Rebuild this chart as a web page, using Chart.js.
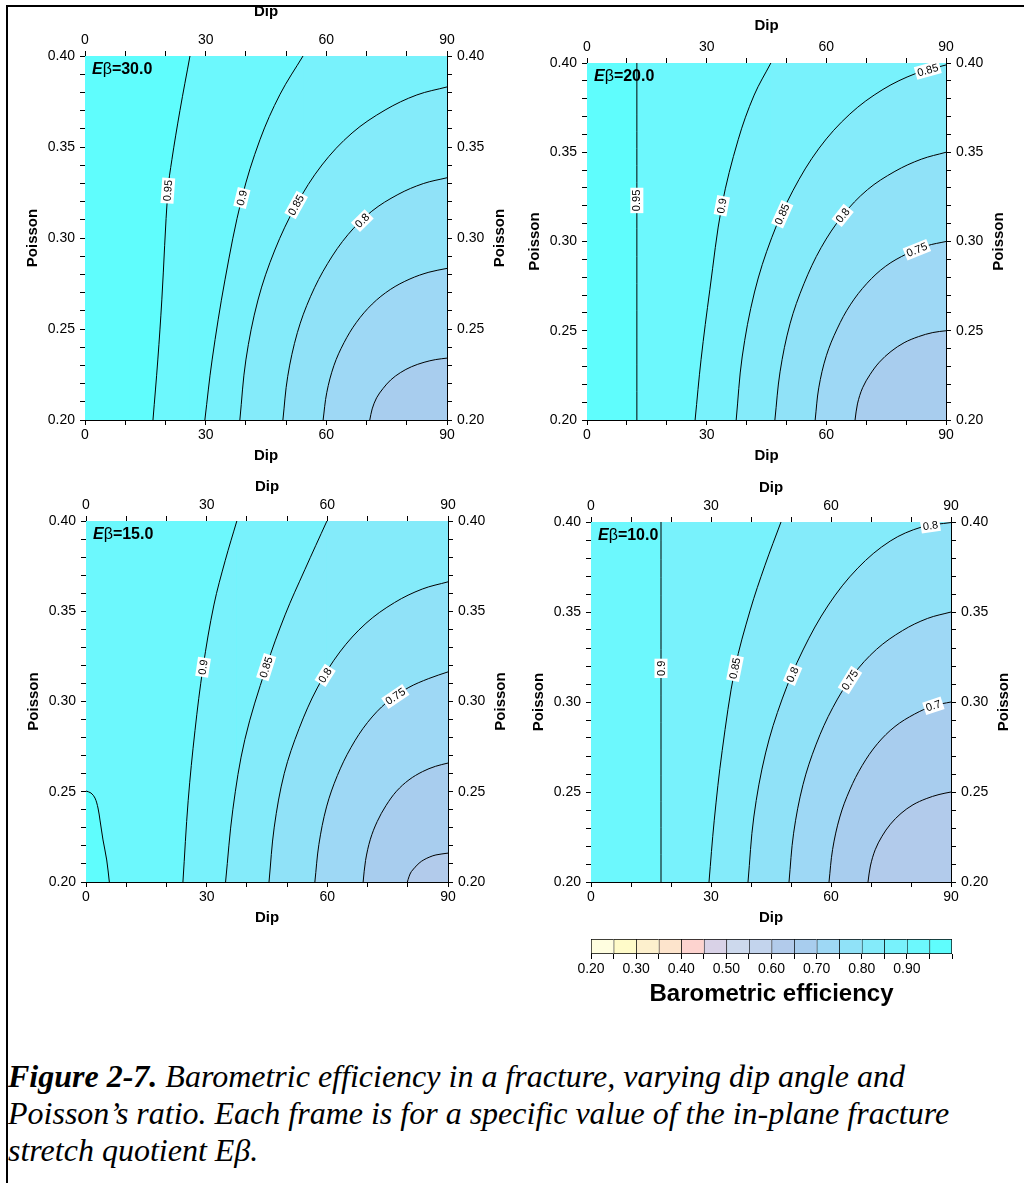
<!DOCTYPE html>
<html>
<head>
<meta charset="utf-8">
<script src="https://cdn.jsdelivr.net/npm/chart.js@4.4.1/dist/chart.umd.min.js"></script>
<style>
  html, body { margin: 0; padding: 0; background: #fff; width: 1024px; height: 1183px; overflow: hidden; }
  .frame { position: absolute; left: 6px; top: 5px; width: 1040px; height: 1200px; border-left: 2px solid #000; border-top: 2px solid #000; }
  #caption { position: absolute; left: 8px; top: 1058px; font-family: 'Liberation Serif', 'Times New Roman', serif; font-style: italic; font-size: 32px; line-height: 37px; color: #000; white-space: nowrap; }
</style>
</head>
<body>
<div class="frame"></div>
<div id="caption"><b>Figure 2-7.</b> Barometric efficiency in a fracture, varying dip angle and<br>Poisson’s ratio. Each frame is for a specific value of the in-plane fracture<br>stretch quotient Eβ.</div>
<script>
// ---- colour scale (cells of the colour bar, lower bound of each cell)
const cellLevels = [0.20, 0.25, 0.30, 0.35, 0.40, 0.45, 0.50, 0.55, 0.60, 0.65, 0.70, 0.75, 0.80, 0.85, 0.90, 0.95];
const cellColors = ['#fffee0', '#fffbc9', '#fdf0cd', '#fde4cc', '#fdd3cf', '#d9d2e7', '#cdd9ed', '#c3d4ed',
                    '#b2cbeb', '#a8cdee', '#9ed8f5', '#90e2f8', '#84ebfa', '#78f2fc', '#6cf8fd', '#5ffdfd'];
const cellTickLabels = ['0.20', '0.30', '0.40', '0.50', '0.60', '0.70', '0.80', '0.90'];

const dipTicks = [0, 30, 60, 90];
const poissonTicks = [0.20, 0.25, 0.30, 0.35, 0.40];

// ---- Eβ = 30.0  (contours as [dip, poisson])
const e30Levels = [0.95, 0.9, 0.85, 0.8, 0.75, 0.7];
const e30Bands = [0.90, 0.85, 0.80, 0.75, 0.70, 0.65];
const e30LabelAt = [[3], [3], [4], [5.6], [], []];
const e30_095 = [[16.9, 0.200], [18.1, 0.233], [19.1, 0.266], [20.6, 0.326], [21.6, 0.343], [23.6, 0.370], [26.1, 0.400]];
const e30_090 = [[29.8, 0.200], [31.6, 0.233], [34.8, 0.277], [39.0, 0.322], [43.5, 0.354], [48.5, 0.379], [54.2, 0.400]];
const e30_085 = [[38.5, 0.200], [40.0, 0.233], [43.0, 0.2659], [47.2, 0.2934], [52.5, 0.3181], [58.9, 0.3401], [66.4, 0.3577], [74.6, 0.3703], [82.5, 0.3786], [90, 0.383]];
const e30_080 = [[49.2, 0.200], [50.4, 0.224], [52.8, 0.248], [56.1, 0.268], [60.3, 0.2859], [65.4, 0.3019], [71.3, 0.3147], [77.8, 0.3239], [84.1, 0.3299], [90, 0.3331]];
const e30_075 = [[59.2, 0.200], [60.1, 0.215], [61.9, 0.230], [64.4, 0.2425], [67.5, 0.2537], [71.4, 0.2637], [75.9, 0.2717], [80.8, 0.2775], [85.5, 0.2812], [90, 0.2833]];
const e30_070 = [[70.8, 0.200], [71.4, 0.2061], [72.5, 0.2122], [74.1, 0.2173], [76.0, 0.222], [78.4, 0.226], [81.2, 0.2293], [84.3, 0.2317], [87.2, 0.2332], [90, 0.234]];

// ---- Eβ = 20.0
const e20Levels = [0.95, 0.9, 0.85, 0.8, 0.75, 0.7];
const e20Bands = [0.90, 0.85, 0.80, 0.75, 0.70, 0.65];
const e20LabelAt = [[1], [3], [3.5, 8.4], [5], [7.5], []];
const e20_095 = [[12.5, 0.200], [12.5, 0.323], [12.5, 0.400]];
const e20_090 = [[27.1, 0.200], [28.6, 0.234], [30.8, 0.273], [33.8, 0.320], [37.9, 0.357], [41.9, 0.382], [46.1, 0.400]];
const e20_085 = [[37.4, 0.200], [38.9, 0.2353], [42.0, 0.2717], [46.3, 0.3021], [51.6, 0.3284], [58.2, 0.3523], [65.9, 0.3714], [74.2, 0.3852], [82.4, 0.3941], [90, 0.3989]];
const e20_080 = [[47.1, 0.200], [48.4, 0.227], [50.9, 0.2539], [54.4, 0.2764], [58.7, 0.2966], [64.1, 0.3146], [70.3, 0.329], [77.2, 0.3393], [83.8, 0.3461], [90, 0.350]];
const e20_075 = [[57.2, 0.200], [58.1, 0.218], [60.0, 0.236], [62.7, 0.251], [66.0, 0.2645], [70.2, 0.2766], [74.9, 0.2862], [80.2, 0.2931], [85.2, 0.2976], [90, 0.300]];
const e20_070 = [[67.2, 0.200], [67.8, 0.209], [69.1, 0.2181], [71.0, 0.2256], [73.3, 0.2324], [76.2, 0.2384], [79.5, 0.2433], [83.1, 0.2467], [86.7, 0.249], [90, 0.250]];

// ---- Eβ = 15.0  (first contour closes the lower-left corner, higher values inside)
const e15Levels = [0.95, 0.9, 0.85, 0.8, 0.75, 0.7, 0.65];
const e15Bands = [0.95, 0.85, 0.80, 0.75, 0.70, 0.65, 0.60];
const e15LabelAt = [[], [3], [3], [4.35], [6.4], [], []];
const e15_095 = [[0, 0.2504], [1.24, 0.2493], [2.24, 0.2465], [2.98, 0.241], [3.48, 0.2343], [4.23, 0.2233], [5.15, 0.2122], [5.8, 0.200]];
const e15_090 = [[24.1, 0.200], [25.4, 0.245], [27.1, 0.284], [29.1, 0.319], [31.8, 0.3535], [34.6, 0.378], [37.5, 0.400]];
const e15_085 = [[34.7, 0.200], [36.5, 0.240], [39.5, 0.279], [44.8, 0.319], [49.5, 0.348], [54.4, 0.373], [59.9, 0.400]];
const e15_080 = [[45.5, 0.200], [46.8, 0.2304], [49.3, 0.2602], [53.0, 0.2851], [57.5, 0.3075], [63.1, 0.3274], [69.6, 0.3433], [76.7, 0.3548], [83.6, 0.3623], [90, 0.3663]];
const e15_075 = [[56.9, 0.200], [57.9, 0.2208], [59.8, 0.2416], [62.5, 0.259], [65.9, 0.2746], [70.0, 0.2884], [74.8, 0.2996], [80.1, 0.3076], [85.2, 0.3127], [90, 0.3164]];
const e15_070 = [[68.9, 0.200], [69.5, 0.2119], [70.7, 0.2237], [72.4, 0.2335], [74.6, 0.2424], [77.2, 0.2503], [80.3, 0.2566], [83.7, 0.2612], [86.9, 0.2641], [90, 0.2659]];
const e15_065 = [[79.9, 0.200], [80.3, 0.2029], [80.9, 0.2058], [82.8, 0.2104], [84.0, 0.2123], [85.5, 0.2139], [87.0, 0.215], [90, 0.216]];

// ---- Eβ = 10.0
const e10Levels = [0.9, 0.85, 0.8, 0.75, 0.7, 0.65];
const e10Bands = [0.85, 0.80, 0.75, 0.70, 0.65, 0.60];
const e10LabelAt = [[1], [3], [3.5, 8.3], [4.85], [8], []];
const e10_090 = [[17.5, 0.200], [17.5, 0.3187], [17.5, 0.400]];
const e10_085 = [[29.5, 0.200], [30.8, 0.234], [32.8, 0.273], [36.0, 0.3187], [39.8, 0.351], [43.5, 0.376], [47.5, 0.400]];
const e10_080 = [[39.25, 0.200], [40.7, 0.2361], [43.65, 0.2717], [47.8, 0.3017], [53.0, 0.3289], [59.35, 0.3539], [66.7, 0.3744], [74.8, 0.3894], [82.65, 0.3972], [90, 0.3997]];
const e10_075 = [[49.5, 0.200], [50.65, 0.2271], [53.0, 0.2541], [56.3, 0.2766], [60.45, 0.2969], [65.5, 0.3149], [71.4, 0.3293], [77.9, 0.3397], [84.1, 0.3464], [90, 0.350]];
const e10_070 = [[59.5, 0.200], [60.4, 0.2181], [62.2, 0.2361], [64.7, 0.2512], [67.8, 0.2647], [71.6, 0.2768], [76.0, 0.2864], [80.9, 0.2933], [85.6, 0.2979], [90, 0.300]];
const e10_065 = [[69.25, 0.200], [69.85, 0.2089], [71.05, 0.2179], [72.75, 0.2254], [74.85, 0.2321], [77.5, 0.2381], [80.5, 0.2429], [83.8, 0.2463], [87.0, 0.2486], [90, 0.250]];

const FONT = "'Liberation Sans', Arial, Helvetica, sans-serif";
Chart.defaults.font.family = FONT;
Chart.defaults.color = '#000';

function bandColor(v) {
    const i = Math.round((v - 0.2) / 0.05);
    return cellColors[Math.max(0, Math.min(cellColors.length - 1, i))];
}

function makeCanvas(left, top, w, h) {
    const c = document.createElement('canvas');
    c.width = w;
    c.height = h;
    c.style.cssText = `position:absolute;left:${left}px;top:${top}px;width:${w}px;height:${h}px`;
    document.body.appendChild(c);
    return c;
}

// Contour line + the area on its lower/right side filled with the band colour
function contourDataset(pts, band, order) {
    const data = pts.map(p => ({ x: p[0], y: p[1] }));
    const n = data.length;
    const last = pts[n - 1];
    // contour leaves through the top edge: close the filled area along the top edge
    if (last[1] >= 0.4 && last[0] < 90) {
        data.push({ x: last[0], y: last[1] }, { x: 90, y: 0.4 });
    }
    return {
        data: data,
        order: order,
        showLine: true,
        pointRadius: 0,
        pointHoverRadius: 0,
        borderColor: '#000',
        borderWidth: 1,
        backgroundColor: bandColor(band),
        fill: 'start',
        tension: 0.35,
        segment: {
            borderColor: c => c.p0DataIndex >= n - 1 ? 'rgba(0,0,0,0)' : undefined
        }
    };
}

function dipAxis(position) {
    return {
        type: 'linear', position: position, min: 0, max: 90, z: 1,
        grid: { drawOnChartArea: false, tickLength: 5, color: '#000', tickColor: '#000', tickWidth: 1 },
        border: { color: '#000', width: 1 },
        ticks: {
            stepSize: 10, maxTicksLimit: 50, autoSkip: false, maxRotation: 0, padding: 2,
            color: '#000', font: { size: 14 },
            callback: v => dipTicks.includes(v) ? String(v) : ''
        },
        afterFit: s => { s.height = 50; }
    };
}

function poissonAxis(position) {
    return {
        type: 'linear', position: position, min: 0.2, max: 0.4, z: 1,
        grid: { drawOnChartArea: false, tickLength: 5, color: '#000', tickColor: '#000', tickWidth: 1 },
        border: { color: '#000', width: 1 },
        ticks: {
            stepSize: 0.01, maxTicksLimit: 50, autoSkip: false, padding: 5,
            color: '#000', font: { size: 14 },
            callback: v => poissonTicks.some(p => Math.abs(p - v) < 1e-6) ? v.toFixed(2) : ''
        },
        afterFit: s => { s.width = 75; }
    };
}

// point on a contour at a (possibly fractional) index, in pixels
function pointAt(pts, t, sx, sy) {
    const i = Math.min(Math.floor(t), pts.length - 2), f = t - i;
    const d = pts[i][0] + (pts[i + 1][0] - pts[i][0]) * f;
    const p = pts[i][1] + (pts[i + 1][1] - pts[i][1]) * f;
    return [sx.getPixelForValue(d), sy.getPixelForValue(p)];
}

// Titles, Eβ tag and contour labels
const panelDecor = {
    id: 'panelDecor',
    afterDraw(chart, args, o) {
        const { ctx, chartArea: a } = chart;
        const sx = chart.scales.x, sy = chart.scales.y;
        const cx = (a.left + a.right) / 2, cy = (a.top + a.bottom) / 2;
        ctx.save();
        ctx.fillStyle = '#000';
        ctx.textAlign = 'center';
        ctx.textBaseline = 'middle';
        ctx.font = `bold 15px ${FONT}`;
        ctx.fillText('Dip', cx, a.top - o.topGap);
        ctx.fillText('Dip', cx, a.bottom + 36);
        [a.left - 52, a.right + 53].forEach(x => {
            ctx.save();
            ctx.translate(x, cy);
            ctx.rotate(-Math.PI / 2);
            ctx.fillText('Poisson', 0, 0);
            ctx.restore();
        });

        ctx.textAlign = 'left';
        let x = a.left + 7;
        [['bold italic 16px', 'E'], ['16px', 'β'], ['bold 16px', '=' + o.eb]].forEach(([f, s]) => {
            ctx.font = `${f} ${FONT}`;
            ctx.fillText(s, x, a.top + 14);
            x += ctx.measureText(s).width;
        });

        ctx.font = `11px ${FONT}`;
        ctx.textAlign = 'center';
        o.labels.forEach(lb => {
            const p = lb.pts, t = lb.idx;
            const [px, py] = pointAt(p, t, sx, sy);
            const j0 = Math.max(0, Math.floor(t) - (t % 1 ? 0 : 1)), j1 = Math.min(p.length - 1, Math.ceil(t) + (t % 1 ? 0 : 1));
            const dx = sx.getPixelForValue(p[j1][0]) - sx.getPixelForValue(p[j0][0]);
            const dy = sy.getPixelForValue(p[j1][1]) - sy.getPixelForValue(p[j0][1]);
            let ang = Math.atan2(dy, dx);
            if (ang > Math.PI / 2) ang -= Math.PI;
            if (ang < -Math.PI / 2) ang += Math.PI;
            const w = ctx.measureText(lb.text).width;
            ctx.save();
            ctx.translate(px, py);
            ctx.rotate(ang);
            ctx.fillStyle = '#fff';
            ctx.fillRect(-w / 2 - 2, -6.5, w + 4, 13);
            ctx.fillStyle = '#000';
            ctx.fillText(lb.text, 0, 0.5);
            ctx.restore();
        });
        ctx.restore();
    }
};

function buildPanel(cfg) {
    const [l, t, r, b] = cfg.area;
    const canvas = makeCanvas(l - 75, t - 50, (r - l) + 150, (b - t) + 100);

    const datasets = [{
        data: [{ x: 0, y: 0.4 }, { x: 90, y: 0.4 }],
        showLine: true, pointRadius: 0, borderWidth: 0,
        backgroundColor: bandColor(cfg.bg), fill: 'start', order: 100
    }];
    cfg.contours.forEach((pts, i) => datasets.push(contourDataset(pts, cfg.bands[i], -i)));

    const labels = [];
    cfg.contours.forEach((pts, i) => {
        cfg.labelAt[i].forEach(idx => labels.push({ pts: pts, idx: idx, text: String(cfg.levels[i]) }));
    });

    return new Chart(canvas, {
        type: 'scatter',
        data: { datasets: datasets },
        options: {
            responsive: false,
            animation: false,
            devicePixelRatio: 1,
            layout: { padding: 0 },
            events: [],
            plugins: {
                legend: { display: false },
                tooltip: { enabled: false },
                panelDecor: { eb: cfg.eb, topGap: cfg.topGap, labels: labels }
            },
            scales: {
                x: dipAxis('bottom'),
                x2: dipAxis('top'),
                y: poissonAxis('left'),
                y2: poissonAxis('right')
            }
        },
        plugins: [panelDecor]
    });
}

buildPanel({ area: [85, 56, 447, 420], topGap: 44, eb: '30.0', bg: 0.95, levels: e30Levels, bands: e30Bands, labelAt: e30LabelAt,
    contours: [e30_095, e30_090, e30_085, e30_080, e30_075, e30_070] });
buildPanel({ area: [587, 63, 946, 420], topGap: 37, eb: '20.0', bg: 0.95, levels: e20Levels, bands: e20Bands, labelAt: e20LabelAt,
    contours: [e20_095, e20_090, e20_085, e20_080, e20_075, e20_070] });
buildPanel({ area: [86, 521, 448, 882], topGap: 34, eb: '15.0', bg: 0.90, levels: e15Levels, bands: e15Bands, labelAt: e15LabelAt,
    contours: [e15_095, e15_090, e15_085, e15_080, e15_075, e15_070, e15_065] });
buildPanel({ area: [591, 522, 951, 882], topGap: 34, eb: '10.0', bg: 0.90, levels: e10Levels, bands: e10Bands, labelAt: e10LabelAt,
    contours: [e10_090, e10_085, e10_080, e10_075, e10_070, e10_065] });

// ---- colour bar
const barCanvas = makeCanvas(571, 929, 391, 82);
new Chart(barCanvas, {
    type: 'bar',
    data: {
        labels: ['be'],
        datasets: cellLevels.map((lo, i) => ({
            data: [[lo, lo + 0.05]],
            backgroundColor: cellColors[i],
            borderColor: '#000',
            borderWidth: i === cellLevels.length - 1 ? 1 : { top: 1, bottom: 1, left: 1, right: 0 },
            borderSkipped: false,
            barPercentage: 1,
            categoryPercentage: 1,
            grouped: false
        }))
    },
    options: {
        indexAxis: 'y',
        responsive: false,
        animation: false,
        devicePixelRatio: 1,
        events: [],
        layout: { padding: { left: 20, right: 10, top: 10, bottom: 0 } },
        plugins: { legend: { display: false }, tooltip: { enabled: false } },
        scales: {
            y: { display: false },
            x: {
                type: 'linear', min: 0.2, max: 1.0,
                grid: { drawOnChartArea: false, tickLength: 5, color: '#000', tickColor: '#000' },
                border: { display: false },
                ticks: {
                    stepSize: 0.05, maxTicksLimit: 50, autoSkip: false, maxRotation: 0, padding: 2,
                    color: '#000', font: { size: 14 },
                    callback: v => {
                        const s = v.toFixed(2);
                        return cellTickLabels.includes(s) ? s : '';
                    }
                },
                title: {
                    display: true, text: 'Barometric efficiency', color: '#000',
                    font: { size: 24, weight: 'bold' }, padding: { top: 0, bottom: 2 }
                },
                afterFit: s => { s.height = 57; }
            }
        }
    }
});
</script>
</body>
</html>
